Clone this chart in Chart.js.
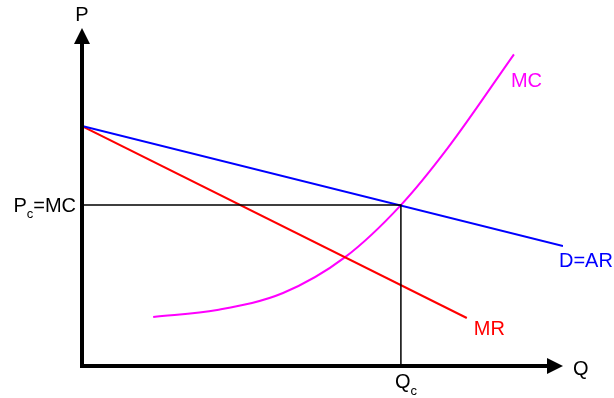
<!DOCTYPE html>
<html>
<head>
<meta charset="utf-8">
<script src="https://cdn.jsdelivr.net/npm/chart.js@4/dist/chart.umd.min.js"></script>
<style>
  html, body { margin: 0; padding: 0; background: #fff; }
  #wrap { width: 614px; height: 398px; position: relative; }
</style>
</head>
<body>
<div id="wrap"><canvas id="chart"></canvas></div>
<script>
// Demand / marginal revenue are straight lines, MC is a rising curve
const demandQ = [0, 100];
const demandP = [71, 35.5];
const mrQ = [0, 80];
const mrP = [71, 14.2];
const mcQ = [14.8, 28.1, 41.8, 54.7, 66.3, 76.1, 89.8];
const mcP = [14.5, 16.6, 21.6, 32.2, 47.6, 64.6, 92.2];

// competitive equilibrium where MC crosses demand
const eqQ = 66.3;
const eqP = 47.6;

const FONT = "'Liberation Sans', Arial, sans-serif";

const pts = (xs, ys) => xs.map((x, i) => ({ x, y: ys[i] }));

// axes with arrow heads, plus all the text labels
const diagramPlugin = {
    id: 'diagram',
    afterDatasetsDraw(chart) {
        const ctx = chart.ctx;
        const xs = chart.scales.x, ys = chart.scales.y;
        const x0 = xs.getPixelForValue(0), y0 = ys.getPixelForValue(0);
        const xEnd = xs.getPixelForValue(100), yEnd = ys.getPixelForValue(100);

        ctx.save();
        ctx.strokeStyle = '#000';
        ctx.fillStyle = '#000';
        ctx.lineWidth = 4;
        ctx.lineCap = 'butt';
        ctx.beginPath();
        ctx.moveTo(x0, y0 + 2);
        ctx.lineTo(x0, yEnd + 12);
        ctx.moveTo(x0 - 2, y0);
        ctx.lineTo(xEnd - 12, y0);
        ctx.stroke();

        // arrow heads
        ctx.beginPath();
        ctx.moveTo(x0, yEnd);
        ctx.lineTo(x0 - 8, yEnd + 16);
        ctx.lineTo(x0 + 8, yEnd + 16);
        ctx.closePath();
        ctx.fill();
        ctx.beginPath();
        ctx.moveTo(xEnd, y0);
        ctx.lineTo(xEnd - 16, y0 - 8);
        ctx.lineTo(xEnd - 16, y0 + 8);
        ctx.closePath();
        ctx.fill();

        ctx.textBaseline = 'alphabetic';
        const big = '20px ' + FONT, small = '13px ' + FONT;

        ctx.font = big;
        ctx.textAlign = 'center';
        ctx.fillText('P', x0, yEnd - 7);
        ctx.textAlign = 'left';
        ctx.fillText('Q', xEnd + 10, y0 + 9);

        // P_c=MC on the price axis
        const py = ys.getPixelForValue(eqP);
        const wP = ctx.measureText('P').width;
        const wRest = ctx.measureText('=MC').width;
        ctx.font = small;
        const wc = ctx.measureText('c').width;
        let tx = x0 - 6 - wRest - wc - wP;
        ctx.font = big;
        ctx.fillText('P', tx, py + 7);
        ctx.font = small;
        ctx.fillText('c', tx + wP, py + 13);
        ctx.font = big;
        ctx.fillText('=MC', tx + wP + wc, py + 7);

        // Q_c under the quantity axis
        const qx = xs.getPixelForValue(eqQ);
        const wQ = ctx.measureText('Q').width;
        ctx.fillText('Q', qx - 6, y0 + 22);
        ctx.font = small;
        ctx.fillText('c', qx - 6 + wQ, y0 + 29);

        // curve names
        ctx.font = big;
        ctx.fillStyle = '#ff00ff';
        ctx.fillText('MC', xs.getPixelForValue(mcQ[mcQ.length - 1]) - 3, ys.getPixelForValue(mcP[mcP.length - 1]) + 33);
        ctx.fillStyle = '#0000ff';
        ctx.fillText('D=AR', xEnd - 4, ys.getPixelForValue(demandP[1]) + 21);
        ctx.fillStyle = '#ff0000';
        ctx.fillText('MR', xs.getPixelForValue(mrQ[1]) + 7, ys.getPixelForValue(mrP[1]) + 17);
        ctx.restore();
    }
};

new Chart(document.getElementById('chart'), {
    type: 'scatter',
    data: {
        datasets: [
            {
                label: 'guides',
                data: [{ x: 0, y: eqP }, { x: eqQ, y: eqP }, { x: eqQ, y: 0 }],
                borderColor: '#000',
                borderWidth: 1.5,
                showLine: true,
                pointRadius: 0
            },
            {
                label: 'D=AR',
                data: pts(demandQ, demandP),
                borderColor: '#0000ff',
                borderWidth: 2,
                showLine: true,
                pointRadius: 0
            },
            {
                label: 'MR',
                data: pts(mrQ, mrP),
                borderColor: '#ff0000',
                borderWidth: 2,
                showLine: true,
                pointRadius: 0
            },
            {
                label: 'MC',
                data: pts(mcQ, mcP),
                borderColor: '#ff00ff',
                borderWidth: 2,
                showLine: true,
                pointRadius: 0,
                cubicInterpolationMode: 'monotone'
            }
        ]
    },
    options: {
        responsive: true,
        maintainAspectRatio: false,
        animation: false,
        layout: { padding: { left: 82, right: 51, top: 28, bottom: 32 } },
        plugins: {
            legend: { display: false },
            tooltip: { enabled: false }
        },
        scales: {
            x: { type: 'linear', min: 0, max: 100, display: false },
            y: { type: 'linear', min: 0, max: 100, display: false }
        }
    },
    plugins: [diagramPlugin]
});
</script>
</body>
</html>
